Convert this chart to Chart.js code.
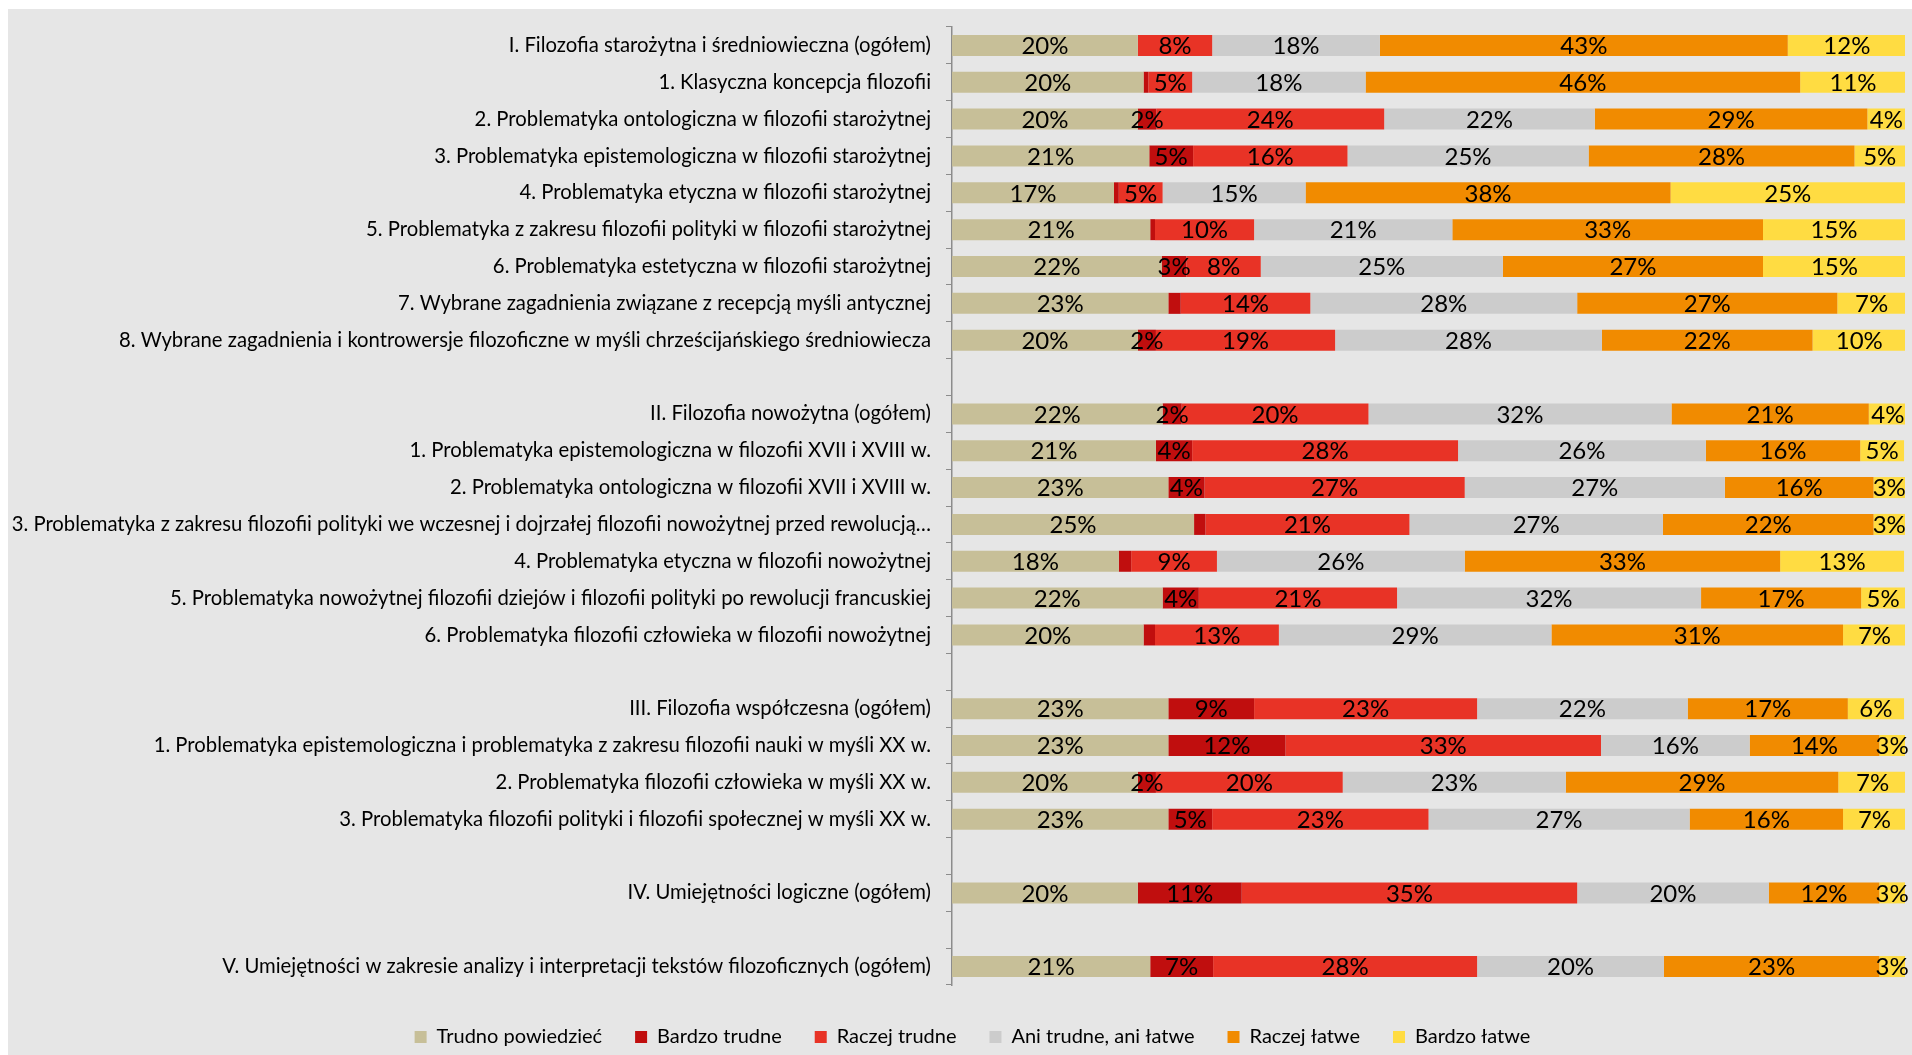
<!DOCTYPE html>
<html>
<head>
<meta charset="utf-8">
<script src="https://cdn.jsdelivr.net/npm/chart.js@4.4.1/dist/chart.umd.min.js"></script>
<style>
  body { margin: 0; background: #ffffff; }
  #wrap { position: absolute; left: 8px; top: 9px; width: 1904px; height: 1046px; background: #e6e6e6; }
</style>
</head>
<body>
<div id="wrap"><canvas id="chart"></canvas></div>
<script>
const categories = [
  "I. Filozofia starożytna i średniowieczna (ogółem)",
  "1. Klasyczna koncepcja filozofii",
  "2. Problematyka ontologiczna w filozofii starożytnej",
  "3. Problematyka epistemologiczna w filozofii starożytnej",
  "4. Problematyka etyczna w filozofii starożytnej",
  "5. Problematyka z zakresu filozofii polityki w filozofii starożytnej",
  "6. Problematyka estetyczna w filozofii starożytnej",
  "7. Wybrane zagadnienia związane z recepcją myśli antycznej",
  "8. Wybrane zagadnienia i kontrowersje filozoficzne w myśli chrześcijańskiego średniowiecza",
  "",
  "II. Filozofia nowożytna (ogółem)",
  "1. Problematyka epistemologiczna w filozofii XVII i XVIII w.",
  "2. Problematyka ontologiczna w filozofii XVII i XVIII w.",
  "3. Problematyka z zakresu filozofii polityki we wczesnej i dojrzałej filozofii nowożytnej przed rewolucją…",
  "4. Problematyka etyczna w filozofii nowożytnej",
  "5. Problematyka nowożytnej filozofii dziejów i filozofii polityki po rewolucji francuskiej",
  "6. Problematyka filozofii człowieka w filozofii nowożytnej",
  "",
  "III. Filozofia współczesna (ogółem)",
  "1. Problematyka epistemologiczna i problematyka z zakresu filozofii nauki w myśli XX w.",
  "2. Problematyka filozofii człowieka w myśli XX w.",
  "3. Problematyka filozofii polityki i filozofii społecznej w myśli XX w.",
  "",
  "IV. Umiejętności logiczne (ogółem)",
  "",
  "V. Umiejętności w zakresie analizy i interpretacji tekstów filozoficznych (ogółem)"
];

// values in percent, empty rows are null
const trudnoPowiedziec = [19.5, 20.1, 19.5, 20.7, 17.0, 20.8, 22.0, 22.7, 19.5, null, 22.1, 21.4, 22.7, 25.4, 17.5, 22.1, 20.1, null, 22.7, 22.7, 19.5, 22.7, null, 19.5, null, 20.8];
const bardzoTrudne = [0, 0.5, 1.95, 4.6, 0.5, 0.5, 2.6, 1.3, 1.9, null, 2.0, 3.8, 3.8, 1.2, 1.3, 3.8, 1.2, null, 9.0, 12.3, 1.9, 4.6, null, 10.9, null, 6.6];
const raczejTrudne = [7.8, 4.6, 23.9, 16.2, 4.6, 10.4, 7.8, 13.6, 18.8, null, 19.6, 27.9, 27.3, 21.4, 9.0, 20.8, 13.0, null, 23.4, 33.1, 19.6, 22.7, null, 35.2, null, 27.7];
const aniTrudneAniLatwe = [17.6, 18.2, 22.1, 25.3, 15.0, 20.8, 25.4, 28.0, 28.0, null, 31.8, 26.0, 27.3, 26.6, 26.0, 31.9, 28.6, null, 22.1, 15.6, 23.4, 27.4, null, 20.1, null, 19.6];
const raczejLatwe = [42.8, 45.6, 28.6, 27.9, 38.3, 32.6, 27.3, 27.3, 22.1, null, 20.7, 16.2, 15.6, 22.1, 33.1, 16.8, 30.6, null, 16.8, 13.6, 28.6, 16.1, null, 11.6, null, 22.6];
const bardzoLatwe = [12.4, 11.1, 4.0, 5.3, 24.6, 14.9, 15.0, 7.2, 9.8, null, 4.0, 4.6, 3.3, 3.3, 13.0, 4.6, 6.6, null, 5.9, 2.7, 7.2, 6.6, null, 2.7, null, 2.7];

const seriesNames = ["Trudno powiedzieć", "Bardzo trudne", "Raczej trudne", "Ani trudne, ani łatwe", "Raczej łatwe", "Bardzo łatwe"];
const seriesColors = ["#c7bf98", "#c00e0e", "#e83326", "#cccccc", "#f18b00", "#ffdc42"];
const seriesValues = [trudnoPowiedziec, bardzoTrudne, raczejTrudne, aniTrudneAniLatwe, raczejLatwe, bardzoLatwe];

const axisColor = "#8c8c8c";

// percentage labels drawn in the middle of each segment
const valueLabels = {
  id: "valueLabels",
  afterDatasetsDraw(chart) {
    const ctx = chart.ctx;
    ctx.save();
    ctx.font = "24px Lato";
    ctx.fillStyle = "#000";
    ctx.textAlign = "center";
    ctx.textBaseline = "middle";
    chart.data.datasets.forEach((ds, i) => {
      chart.getDatasetMeta(i).data.forEach((bar, j) => {
        const v = ds.data[j];
        if (v == null || v < 1.5) return;
        const c = bar.getCenterPoint();
        ctx.fillText(Math.round(v) + "%", c.x, c.y + 1);
      });
    });
    ctx.restore();
  }
};

// legend sits a bit right of the canvas centre in the original
const legendShift = {
  id: "legendShift",
  afterLayout(chart) {
    chart.legend.left += 16;
    chart.legend.right += 16;
  }
};

new Chart(document.getElementById("chart"), {
  type: "bar",
  data: {
    labels: categories,
    datasets: seriesNames.map((name, i) => ({
      label: name,
      data: seriesValues[i],
      backgroundColor: seriesColors[i],
      borderWidth: 0,
      barPercentage: 0.57,
      categoryPercentage: 1
    }))
  },
  options: {
    indexAxis: "y",
    responsive: true,
    maintainAspectRatio: false,
    animation: false,
    layout: { padding: { top: 18, right: 7, left: 0, bottom: 0 } },
    scales: {
      x: {
        stacked: true, min: 0, max: 100, display: true,
        ticks: { display: false }, grid: { display: false }, border: { display: false },
        afterFit(scale) { scale.height = 9; }
      },
      y: {
        stacked: true,
        grid: { offset: true, drawOnChartArea: false, tickLength: 6, color: axisColor, tickColor: axisColor },
        border: { color: axisColor, width: 1.5 },
        ticks: { autoSkip: false, padding: 15, color: "#000", font: { family: "Lato", size: 20.3 } },
        afterFit(scale) {
          scale.width = 944;
          scale.paddingTop = 0;
          scale.paddingBottom = 0;
        }
      }
    },
    plugins: {
      legend: {
        position: "bottom",
        maxHeight: 61,
        labels: { boxWidth: 12, boxHeight: 12, padding: 33, color: "#000", font: { family: "Lato", size: 20 } }
      },
      tooltip: { enabled: false }
    }
  },
  plugins: [valueLabels, legendShift]
});
</script>
</body>
</html>
